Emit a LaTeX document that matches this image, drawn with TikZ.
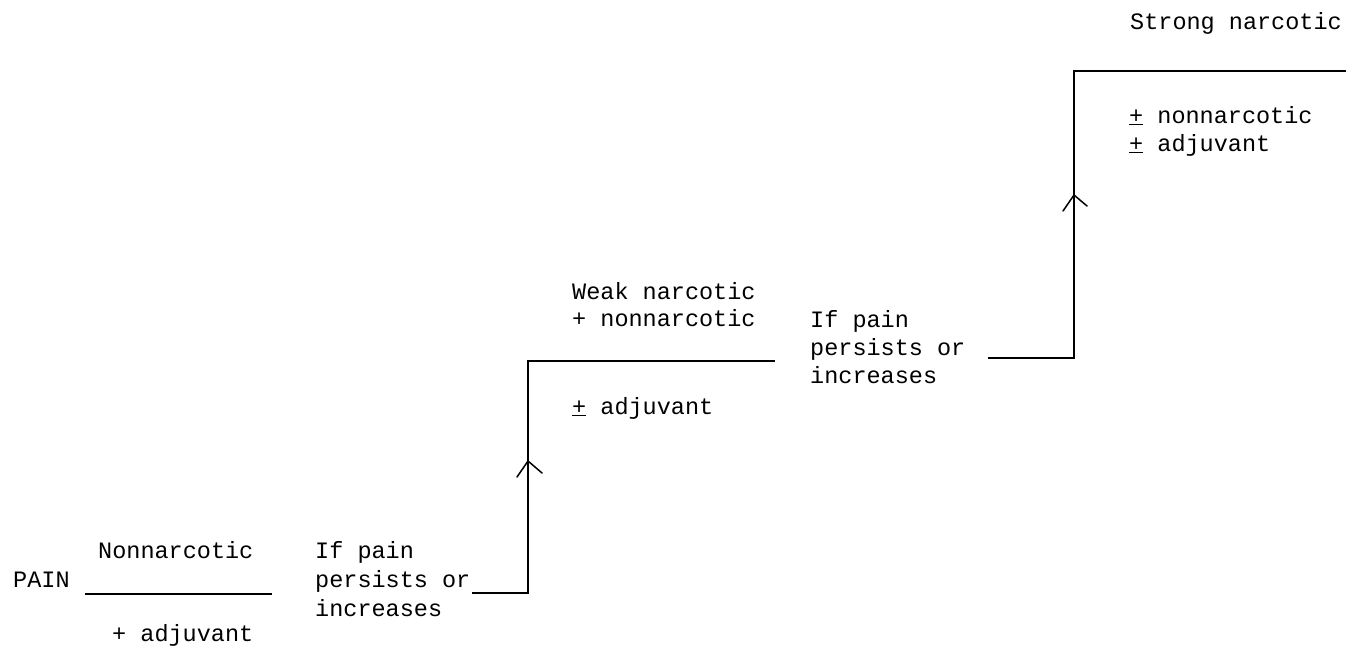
\documentclass[tikz,border=0pt]{standalone}
\usepackage{fontspec}
\setmainfont{Liberation Mono}
\begin{document}
\begin{tikzpicture}[x=1pt,y=-1pt,
  lbl/.style={anchor=base west,inner sep=0pt,font=\fontsize{23.5}{29}\selectfont},
  stair/.style={line width=1.8pt,line join=miter},
  chev/.style={line width=1.5pt,line cap=round}]
\useasboundingbox (0,0) rectangle (1346,648);
% stair corners
\coordinate (t1a) at (85,594);
\coordinate (t1b) at (272,594);
\coordinate (r1a) at (472,593);
\coordinate (r1b) at (528,593);
\coordinate (r1c) at (528,361);
\coordinate (t2b) at (775,361);
\coordinate (r2a) at (988,358);
\coordinate (r2b) at (1074,358);
\coordinate (r2c) at (1074,71);
\coordinate (t3b) at (1346,71);
\coordinate (a1) at (528,461);
\coordinate (a2) at (1074,195);
% first step
\node[lbl] (pain) at (13,587) {PAIN};
\node[lbl] (non1) at (98,558) {Nonnarcotic};
\node[lbl] (adj1) at (112,641) {+ adjuvant};
\draw[stair] (t1a) -- (t1b);
% first condition
\node[lbl] (if1a) at (315,558) {If pain};
\node[lbl] (if1b) at (315,587) {persists or};
\node[lbl] (if1c) at (315,616) {increases};
\draw[stair] (r1a) -- (r1b) -- (r1c) -- (t2b);
\draw[chev] ([shift={(-11,16)}]a1) -- (a1) -- ([shift={(14,12)}]a1);
% second step
\node[lbl] (weak) at (572,299) {Weak narcotic};
\node[lbl] (non2) at (572,326) {+ nonnarcotic};
\node[lbl] (adj2) at (572,414) {\underline{+} adjuvant};
% second condition
\node[lbl] (if2a) at (810,327) {If pain};
\node[lbl] (if2b) at (810,355) {persists or};
\node[lbl] (if2c) at (810,383) {increases};
\draw[stair] (r2a) -- (r2b) -- (r2c) -- (t3b);
\draw[chev] ([shift={(-11,16)}]a2) -- (a2) -- ([shift={(13,11)}]a2);
% third step
\node[lbl] (strong) at (1130,29) {Strong narcotic};
\node[lbl] (non3) at (1129,123) {\underline{+} nonnarcotic};
\node[lbl] (adj3) at (1129,151) {\underline{+} adjuvant};
\end{tikzpicture}
\end{document}
